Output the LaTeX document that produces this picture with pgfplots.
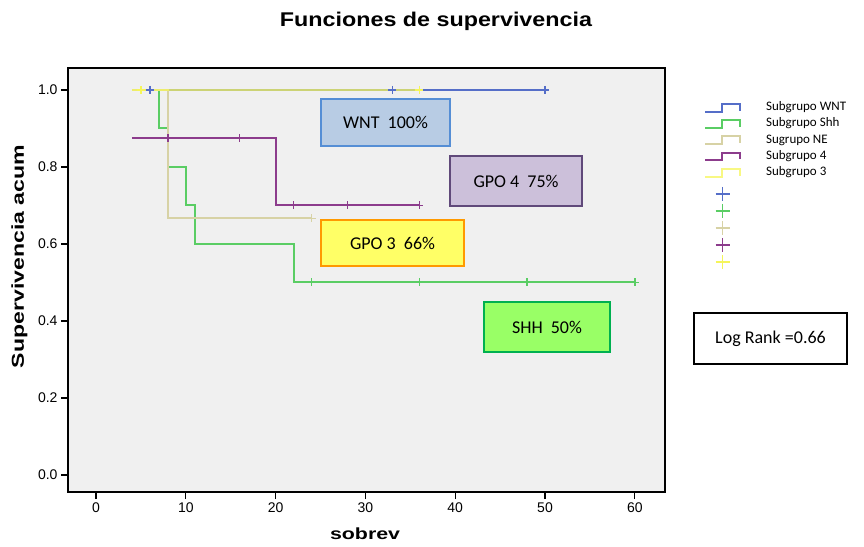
\documentclass[border=0pt]{standalone}
\usepackage{fontspec}
\setmainfont{Liberation Sans}
\newfontfamily\calibri{Carlito}
\usepackage{graphicx}
\usepackage{pgfplots}
\pgfplotsset{compat=1.18}

\definecolor{bggray}{RGB}{240,240,240}
\definecolor{cwnt}{RGB}{85,110,200}
\definecolor{cshh}{RGB}{90,205,100}
\definecolor{cne}{RGB}{215,210,165}
\definecolor{csub4}{RGB}{140,60,140}
\definecolor{csub3}{RGB}{245,245,90}
\definecolor{wntF}{RGB}{184,204,228}
\definecolor{wntB}{RGB}{85,142,213}
\definecolor{g4F}{RGB}{204,192,218}
\definecolor{g4B}{RGB}{96,73,122}
\definecolor{g3F}{RGB}{255,255,102}
\definecolor{g3B}{RGB}{255,153,0}
\definecolor{shF}{RGB}{153,255,102}
\definecolor{shB}{RGB}{0,176,80}

\pgfplotsset{
  steplegend/.style={legend image code/.code={\draw[##1] (0pt,-1pt) -- (17pt,-1pt) -- (17pt,6.7pt) -- (35pt,6.7pt) -- (35pt,0pt);}},
  crosslegend/.style={legend image code/.code={\draw[##1,mark size=7pt] plot coordinates {(17.5pt,3.5pt)};}},
  kmline/.style={const plot, line width=2pt, mark=none, steplegend},
  kmcens/.style={only marks, mark=+, mark size=4pt, mark options={line width=1.5pt}, crosslegend},
}

\begin{document}
\begin{tikzpicture}
\path[use as bounding box] (0,0) rectangle (864pt,546pt);
\begin{axis}[
  at={(68pt,54pt)}, anchor=south west,
  width=597pt, height=424pt, scale only axis,
  xmin=-3.12, xmax=63.36, ymin=-0.04416, ymax=1.05714,
  axis background/.style={fill=bggray},
  axis line style={line width=1.2pt, black},
  xtick={0,10,20,30,40,50,60},
  ytick={0,0.2,0.4,0.6,0.8,1.0},
  xtick pos=bottom, ytick pos=left,
  tick align=outside, major tick length=7pt,
  tick style={line width=1.2pt, black},
  ticklabel style={font=\fontsize{14}{16}\selectfont},
  /pgf/number format/assume math mode=true,
  yticklabel style={/pgf/number format/.cd, fixed, fixed zerofill, precision=1},
  title={\resizebox{312pt}{14.4pt}{\bfseries Funciones de supervivencia}},
  title style={at={(axis cs:37.86,1.1644)}, anchor=base, yshift=-6pt, inner sep=0pt},
  xlabel={\resizebox{70pt}{11.7pt}{\bfseries sobrev}},
  xlabel style={at={(axis cs:29.96,-0.168)}, anchor=base, inner sep=0pt},
  ylabel={\resizebox{223pt}{12.5pt}{\bfseries Supervivencia acum}},
  ylabel style={at={(axis cs:-8.02,0.5675)}, anchor=base, rotate=0, inner sep=0pt},
  legend style={at={(axis cs:67.71,0.9748)}, anchor=north west, draw=none, fill=none,
    inner sep=0pt, outer sep=0pt, row sep=0pt, column sep=25pt,
    font=\calibri\fontsize{13}{15}\selectfont,
    nodes={inner sep=0pt, text depth={}, text height={}},
    cells={anchor=base west}},
]
% survival step curves
\addplot[kmline, cwnt] coordinates {(6,1) (50,1)};
\addlegendentry{\rule[-5.25pt]{0pt}{16.25pt}Subgrupo WNT}
\addplot[kmline, cshh] coordinates {(6,1) (7,0.9) (8,0.8) (10,0.7) (11,0.6) (22,0.5) (60,0.5)};
\addlegendentry{\rule[-5.25pt]{0pt}{16.25pt}Subgrupo Shh}
\addplot[kmline, cne] coordinates {(4,1) (8,0.6667) (24,0.6667)};
\addlegendentry{\rule[-5.25pt]{0pt}{16.25pt}Sugrupo NE}
\addplot[kmline, csub4] coordinates {(4,0.875) (20,0.7) (36,0.7)};
\addlegendentry{\rule[-5.25pt]{0pt}{16.25pt}Subgrupo 4}
\addplot[kmline, csub3, draw opacity=0.75] coordinates {(4,1) (36,1)};
\addlegendentry{\rule[-9.8pt]{0pt}{20.8pt}Subgrupo 3}
% censored observations
\addplot[kmcens, cwnt] coordinates {(6,1) (33,1) (50,1)};
\addlegendentry{\rule[-5pt]{0pt}{17pt}}
\addplot[kmcens, cshh] coordinates {(24,0.5) (36,0.5) (48,0.5) (60,0.5)};
\addlegendentry{\rule[-5pt]{0pt}{17pt}}
\addplot[kmcens, cne] coordinates {(24,0.6667)};
\addlegendentry{\rule[-5pt]{0pt}{17pt}}
\addplot[kmcens, csub4] coordinates {(8,0.875) (16,0.875) (22,0.7) (28,0.7) (36,0.7)};
\addlegendentry{\rule[-5pt]{0pt}{17pt}}
\addplot[kmcens, csub3] coordinates {(5,1) (36,1)};
\addlegendentry{\rule[-5pt]{0pt}{17pt}}
\end{axis}
% annotation boxes
\begin{scope}[every node/.style={font=\calibri\fontsize{18}{20}\selectfont, inner sep=0pt}]
\draw[line width=1.8pt, draw=wntB, fill=wntF] (321pt,447pt) rectangle (450pt,400pt);
\node at (385.5pt,423.5pt) {WNT\hspace{0.45em}100\%};
\draw[line width=1.8pt, draw=g4B, fill=g4F] (450pt,390pt) rectangle (582pt,340pt);
\node at (516pt,365pt) {GPO 4\hspace{0.45em}75\%};
\draw[line width=1.8pt, draw=g3B, fill=g3F] (321pt,326pt) rectangle (464pt,280pt);
\node at (392.5pt,303pt) {GPO 3\hspace{0.45em}66\%};
\draw[line width=1.8pt, draw=shB, fill=shF] (484pt,244pt) rectangle (610pt,194pt);
\node at (547pt,219pt) {SHH\hspace{0.45em}50\%};
\draw[line width=1.2pt, draw=black, fill=white] (694pt,233pt) rectangle (847pt,182pt);
\node at (770.5pt,207.5pt) {Log Rank =0.66};
\end{scope}
\end{tikzpicture}
\end{document}
